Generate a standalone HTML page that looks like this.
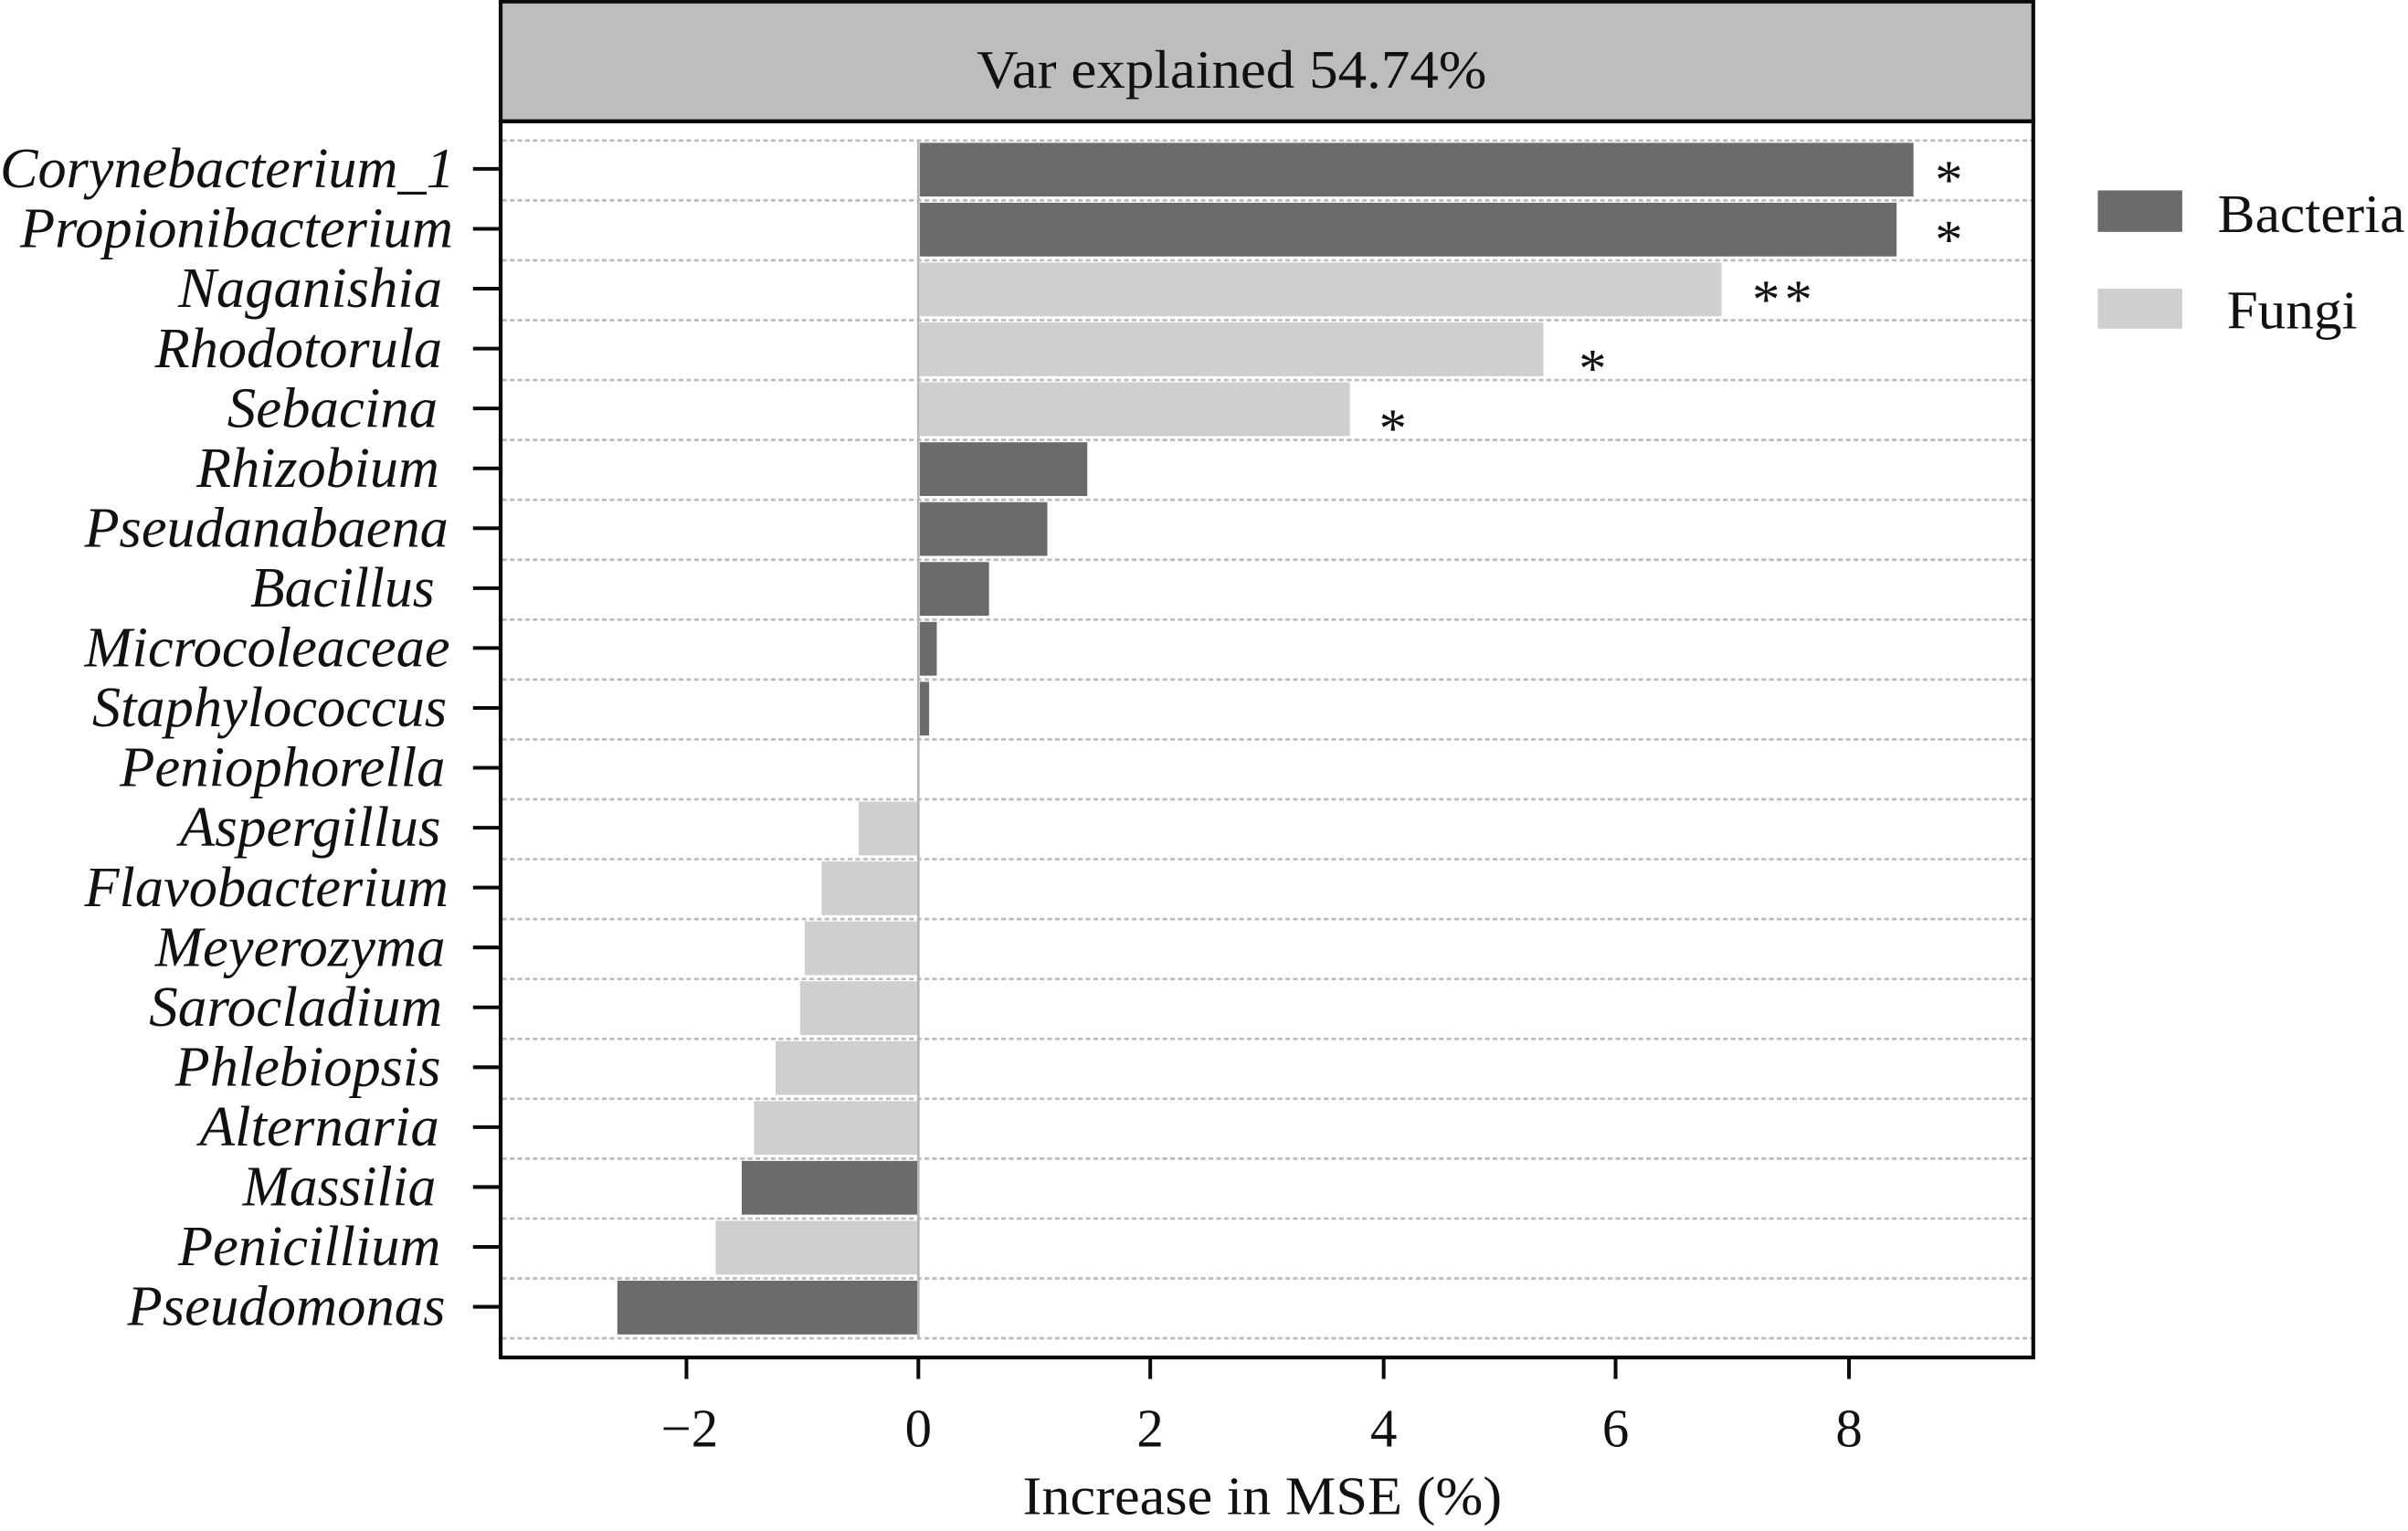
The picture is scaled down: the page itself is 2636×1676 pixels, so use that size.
<!DOCTYPE html>
<html><head><style>html,body{margin:0;padding:0;background:#fff}svg{display:block}</style></head>
<body>
<svg xmlns="http://www.w3.org/2000/svg" width="2636" height="1676" viewBox="0 0 1568 997" preserveAspectRatio="none" font-family="'Liberation Serif', serif">
<rect x="0" y="0" width="1568" height="997" fill="#fff"/>
<rect x="326" y="1" width="998" height="78" fill="#bebcbf" stroke="#0a0a0a" stroke-width="2.5"/>
<text x="636" y="57" font-size="35" fill="#111" textLength="332" lengthAdjust="spacingAndGlyphs">Var explained 54.74%</text>
<g stroke="#bbbbbd" stroke-width="1.6" stroke-dasharray="3,2">
<line x1="327" x2="1324" y1="91.5" y2="91.5"/><line x1="327" x2="1324" y1="130.5" y2="130.5"/><line x1="327" x2="1324" y1="169.5" y2="169.5"/><line x1="327" x2="1324" y1="208.5" y2="208.5"/><line x1="327" x2="1324" y1="247.5" y2="247.5"/><line x1="327" x2="1324" y1="286.5" y2="286.5"/><line x1="327" x2="1324" y1="325.5" y2="325.5"/><line x1="327" x2="1324" y1="364.5" y2="364.5"/><line x1="327" x2="1324" y1="403.5" y2="403.5"/><line x1="327" x2="1324" y1="442.5" y2="442.5"/><line x1="327" x2="1324" y1="481.5" y2="481.5"/><line x1="327" x2="1324" y1="520.5" y2="520.5"/><line x1="327" x2="1324" y1="559.5" y2="559.5"/><line x1="327" x2="1324" y1="598.5" y2="598.5"/><line x1="327" x2="1324" y1="637.5" y2="637.5"/><line x1="327" x2="1324" y1="676.5" y2="676.5"/><line x1="327" x2="1324" y1="715.5" y2="715.5"/><line x1="327" x2="1324" y1="754.5" y2="754.5"/><line x1="327" x2="1324" y1="793.5" y2="793.5"/><line x1="327" x2="1324" y1="832.5" y2="832.5"/><line x1="327" x2="1324" y1="871.5" y2="871.5"/>
</g>
<g>
<rect x="599" y="93" width="647" height="35" fill="#6b6b6d"/>
<rect x="599" y="132" width="636" height="35" fill="#6b6b6d"/>
<rect x="599" y="171" width="522" height="35" fill="#cfcfd1"/>
<rect x="599" y="210" width="406" height="35" fill="#cfcfd1"/>
<rect x="599" y="249" width="280" height="35" fill="#cfcfd1"/>
<rect x="599" y="288" width="109" height="35" fill="#6b6b6d"/>
<rect x="599" y="327" width="83" height="35" fill="#6b6b6d"/>
<rect x="599" y="366" width="45" height="35" fill="#6b6b6d"/>
<rect x="599" y="405" width="11" height="35" fill="#6b6b6d"/>
<rect x="599" y="444" width="6" height="35" fill="#6b6b6d"/>
<rect x="559" y="522" width="39" height="35" fill="#cfcfd1"/>
<rect x="535" y="561" width="63" height="35" fill="#cfcfd1"/>
<rect x="524" y="600" width="74" height="35" fill="#cfcfd1"/>
<rect x="521" y="639" width="77" height="35" fill="#cfcfd1"/>
<rect x="505" y="678" width="93" height="35" fill="#cfcfd1"/>
<rect x="491" y="717" width="107" height="35" fill="#cfcfd1"/>
<rect x="483" y="756" width="115" height="35" fill="#6b6b6d"/>
<rect x="466" y="795" width="132" height="35" fill="#cfcfd1"/>
<rect x="402" y="834" width="196" height="35" fill="#6b6b6d"/>
</g>
<line x1="598" x2="598" y1="91" y2="871" stroke="#b5b5b7" stroke-width="1.6"/>
<rect x="326" y="79" width="998" height="805" fill="none" stroke="#0a0a0a" stroke-width="2.5"/>
<g font-size="36" fill="#111">
<text x="1269" y="129" text-anchor="middle">*</text>
<text x="1269" y="168" text-anchor="middle">*</text>
<text x="1150" y="207" text-anchor="middle">*</text>
<text x="1171" y="207" text-anchor="middle">*</text>
<text x="1037" y="252" text-anchor="middle">*</text>
<text x="907" y="291" text-anchor="middle">*</text>
</g>
<g stroke="#0a0a0a" stroke-width="2.4">
<line x1="308" x2="325" y1="110" y2="110"/><line x1="308" x2="325" y1="149" y2="149"/><line x1="308" x2="325" y1="188" y2="188"/><line x1="308" x2="325" y1="227" y2="227"/><line x1="308" x2="325" y1="266" y2="266"/><line x1="308" x2="325" y1="305" y2="305"/><line x1="308" x2="325" y1="344" y2="344"/><line x1="308" x2="325" y1="383" y2="383"/><line x1="308" x2="325" y1="422" y2="422"/><line x1="308" x2="325" y1="461" y2="461"/><line x1="308" x2="325" y1="500" y2="500"/><line x1="308" x2="325" y1="539" y2="539"/><line x1="308" x2="325" y1="578" y2="578"/><line x1="308" x2="325" y1="617" y2="617"/><line x1="308" x2="325" y1="656" y2="656"/><line x1="308" x2="325" y1="695" y2="695"/><line x1="308" x2="325" y1="734" y2="734"/><line x1="308" x2="325" y1="773" y2="773"/><line x1="308" x2="325" y1="812" y2="812"/><line x1="308" x2="325" y1="851" y2="851"/>
<line x1="447" x2="447" y1="884" y2="898"/><line x1="598" x2="598" y1="884" y2="898"/><line x1="749" x2="749" y1="884" y2="898"/><line x1="901" x2="901" y1="884" y2="898"/><line x1="1052" x2="1052" y1="884" y2="898"/><line x1="1204" x2="1204" y1="884" y2="898"/>
</g>
<g font-size="37" font-style="italic" fill="#111">
<text x="0" y="122" textLength="296" lengthAdjust="spacingAndGlyphs">Corynebacterium_1</text>
<text x="13" y="161" textLength="282" lengthAdjust="spacingAndGlyphs">Propionibacterium</text>
<text x="116" y="200" textLength="172" lengthAdjust="spacingAndGlyphs">Naganishia</text>
<text x="101" y="239" textLength="187" lengthAdjust="spacingAndGlyphs">Rhodotorula</text>
<text x="148" y="278" textLength="137" lengthAdjust="spacingAndGlyphs">Sebacina</text>
<text x="128" y="317" textLength="158" lengthAdjust="spacingAndGlyphs">Rhizobium</text>
<text x="55" y="356" textLength="237" lengthAdjust="spacingAndGlyphs">Pseudanabaena</text>
<text x="163" y="395" textLength="120" lengthAdjust="spacingAndGlyphs">Bacillus</text>
<text x="55" y="434" textLength="238" lengthAdjust="spacingAndGlyphs">Microcoleaceae</text>
<text x="60" y="473" textLength="231" lengthAdjust="spacingAndGlyphs">Staphylococcus</text>
<text x="78" y="512" textLength="212" lengthAdjust="spacingAndGlyphs">Peniophorella</text>
<text x="117" y="551" textLength="170" lengthAdjust="spacingAndGlyphs">Aspergillus</text>
<text x="55" y="590" textLength="237" lengthAdjust="spacingAndGlyphs">Flavobacterium</text>
<text x="101" y="629" textLength="189" lengthAdjust="spacingAndGlyphs">Meyerozyma</text>
<text x="97" y="668" textLength="191" lengthAdjust="spacingAndGlyphs">Sarocladium</text>
<text x="114" y="707" textLength="173" lengthAdjust="spacingAndGlyphs">Phlebiopsis</text>
<text x="130" y="746" textLength="156" lengthAdjust="spacingAndGlyphs">Alternaria</text>
<text x="158" y="785" textLength="126" lengthAdjust="spacingAndGlyphs">Massilia</text>
<text x="116" y="824" textLength="171" lengthAdjust="spacingAndGlyphs">Penicillium</text>
<text x="83" y="863" textLength="207" lengthAdjust="spacingAndGlyphs">Pseudomonas</text>
</g>
<g font-size="35" fill="#111" text-anchor="middle">
<text x="449" y="942">−2</text><text x="598" y="942">0</text><text x="749" y="942">2</text><text x="901" y="942">4</text><text x="1052" y="942">6</text><text x="1204" y="942">8</text>
</g>
<text x="666" y="986" font-size="35" fill="#111" textLength="312" lengthAdjust="spacingAndGlyphs">Increase in MSE (%)</text>
<rect x="1366" y="124" width="55" height="27" fill="#6b6b6d"/>
<rect x="1366" y="188" width="55" height="26" fill="#cfcfd1"/>
<text x="1444" y="151" font-size="35" fill="#111" textLength="122" lengthAdjust="spacingAndGlyphs">Bacteria</text>
<text x="1450" y="214" font-size="35" fill="#111" textLength="85" lengthAdjust="spacingAndGlyphs">Fungi</text>
</svg>
</body></html>
